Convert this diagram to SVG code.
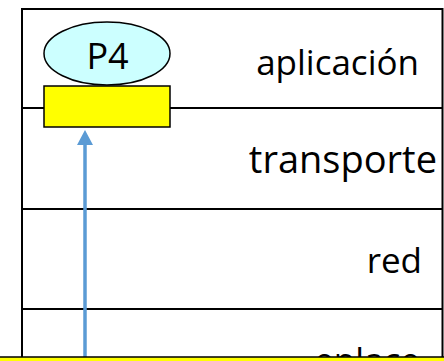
<svg xmlns="http://www.w3.org/2000/svg" width="444" height="361" viewBox="0 0 444 361">
<style>
.frame{fill:none;stroke:#000;stroke-width:2}
.lbl{font-family:"Open Sans","Noto Sans",sans-serif;font-size:35px;fill:#000;text-anchor:end}
.conn{stroke:#5B9BD5;stroke-width:3.5;fill:none}
</style>
<defs>
<marker id="ah" viewBox="0 0 15 16" refX="1" refY="8" markerWidth="15" markerHeight="16" markerUnits="userSpaceOnUse" orient="auto">
<path d="M0,0 L15,8 L0,16 z" fill="#5B9BD5"/>
</marker>
</defs>
<rect width="444" height="361" fill="#fff"/>
<g id="layers">
<path class="frame" d="M22,357 L22,9 L442.5,9 L442.5,357 M22,108 L442.5,108 M22,209 L442.5,209 M22,309 L442.5,309"/>
<text class="lbl" x="419" y="75">aplicación</text>
<text class="lbl" x="437" y="173" style="font-size:38px">transporte</text>
<text class="lbl" x="422" y="273">red</text>
<text class="lbl" x="420" y="373">enlace</text>
</g>
<g id="connectors">
<line class="conn" x1="85" y1="358" x2="85" y2="144" marker-end="url(#ah)"/>
</g>
<g id="p4">
<ellipse cx="107" cy="53.5" rx="63" ry="31.5" fill="#CCFFFF" stroke="#000" stroke-width="1.5"/>
<text x="107.5" y="69" style="font-family:'Open Sans','Noto Sans',sans-serif;font-size:36px;text-anchor:middle">P4</text>
</g>
<g id="socket">
<rect x="44" y="86" width="126" height="41" fill="#FFFF00" stroke="#000" stroke-width="1.5"/>
</g>
<g id="bottom-bar">
<rect x="-5" y="357" width="460" height="20" fill="#FFFF00" stroke="#000" stroke-width="1.5"/>
</g>
</svg>
